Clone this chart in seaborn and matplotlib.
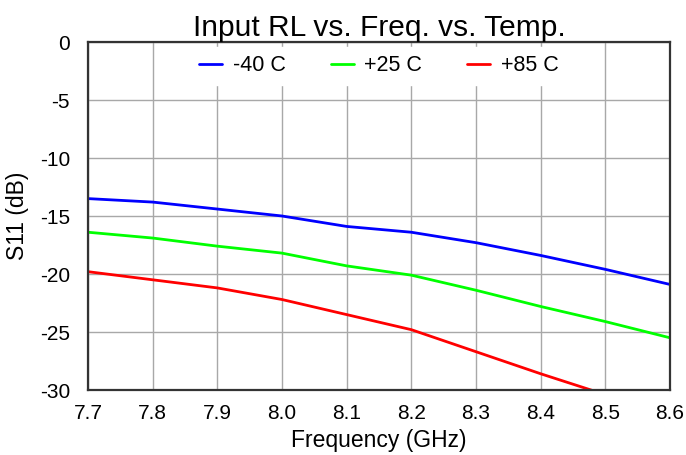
import matplotlib
matplotlib.use("Agg")
import matplotlib.pyplot as plt
import seaborn as sns
import pandas as pd

freq = [7.7, 7.8, 7.9, 8.0, 8.1, 8.2, 8.3, 8.4, 8.5, 8.6]
s11_m40 = [-13.5, -13.8, -14.4, -15.0, -15.9, -16.4, -17.3, -18.4, -19.6, -20.9]
s11_p25 = [-16.4, -16.9, -17.6, -18.2, -19.3, -20.1, -21.4, -22.8, -24.1, -25.5]
s11_p85 = [-19.8, -20.5, -21.2, -22.2, -23.5, -24.8, -26.7, -28.6, -30.4, -32.2]
labels = ["-40 C", "+25 C", "+85 C"]
colors = ["#0000ff", "#00ff00", "#ff0000"]
yticks = [0, -5, -10, -15, -20, -25, -30]

rows = []
for lab, vals in zip(labels, [s11_m40, s11_p25, s11_p85]):
    for f, v in zip(freq, vals):
        rows.append({"Frequency": f, "S11": v, "Temp": lab})
df = pd.DataFrame(rows)

sns.set_style("white")
plt.rcParams["font.family"] = ["Liberation Sans", "DejaVu Sans"]
plt.rcParams["axes.unicode_minus"] = False
plt.rcParams["text.color"] = "black"

fig = plt.figure(figsize=(6.86, 4.55), dpi=100)
ax = fig.add_axes([88 / 686, 1 - 390 / 455, 582 / 686, 348 / 455])

sns.lineplot(data=df, x="Frequency", y="S11", hue="Temp",
             palette=dict(zip(labels, colors)), linewidth=2, ax=ax,
             legend=True)

ax.set_xlim(7.7, 8.6)
ax.set_ylim(-30, 0)
ax.set_xticks(freq)
ax.set_xticklabels([f"{f:.1f}" for f in freq])
ax.set_yticks(yticks)
ax.set_yticklabels([str(t) for t in yticks])
ax.tick_params(axis="both", labelsize=15, length=0, colors="black")
ax.tick_params(axis="x", pad=10)
ax.tick_params(axis="y", pad=13)
ax.grid(True, color="#a8a8a8", linewidth=1.0)
ax.set_axisbelow(True)
for s in ax.spines.values():
    s.set_color("#333333")
    s.set_linewidth(1.6)
ax.set_xlabel("Frequency (GHz)", fontsize=16.5, labelpad=4.5, color="black")
ax.set_ylabel("S11 (dB)", fontsize=16.5, labelpad=8, color="black")
ax.set_title("Input RL vs. Freq. vs. Temp.", fontsize=21.5, pad=4, color="black")

leg = ax.legend(loc="upper center", ncol=3, frameon=True, fontsize=15.5,
                handlelength=1.05, handletextpad=0.5, columnspacing=2.1,
                borderaxespad=0.22, bbox_to_anchor=(0.5, 1.0))
leg.get_frame().set_edgecolor("white")
leg.get_frame().set_facecolor("white")
leg.get_frame().set_alpha(1)
leg.get_frame().set_boxstyle("square", pad=0.0)
for t in leg.get_texts():
    t.set_color("black")

fig.savefig("out.png", dpi=100)
